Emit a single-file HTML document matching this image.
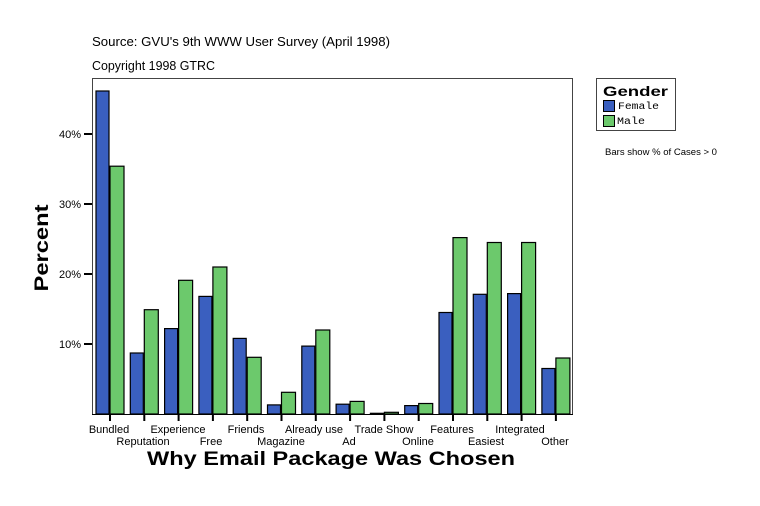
<!DOCTYPE html>
<html><head><meta charset="utf-8"><style>
body{margin:0;background:#fff;}
svg{display:block;font-family:"Liberation Sans",Arial,sans-serif;}
</style></head><body>
<svg width="760" height="506" viewBox="0 0 760 506">
<rect width="760" height="506" fill="#fff"/>
<text x="92" y="46" font-size="13" textLength="298" lengthAdjust="spacingAndGlyphs">Source: GVU's 9th WWW User Survey (April 1998)</text>
<text x="92" y="70" font-size="13" textLength="123" lengthAdjust="spacingAndGlyphs">Copyright 1998 GTRC</text>
<rect x="92.5" y="78.5" width="480" height="336" fill="#fff" stroke="#444" stroke-width="1"/>
<g stroke="#000" stroke-width="2">
<line x1="84" y1="134" x2="92" y2="134"/><line x1="84" y1="204" x2="92" y2="204"/>
<line x1="84" y1="274" x2="92" y2="274"/><line x1="84" y1="344" x2="92" y2="344"/>
</g>
<g font-size="11" text-anchor="end">
<text x="81" y="138">40%</text><text x="81" y="208">30%</text><text x="81" y="278">20%</text><text x="81" y="348">10%</text>
</g>
<text transform="translate(48,248) rotate(-90)" font-size="19" font-weight="bold" text-anchor="middle" textLength="87" lengthAdjust="spacingAndGlyphs">Percent</text>
<g stroke="#000" stroke-width="1.2">
<g fill="#3a5fbf">
<rect x="96" y="91" width="13" height="323"/>
<rect x="130.3" y="353" width="13" height="61"/>
<rect x="164.6" y="328.6" width="13" height="85.4"/>
<rect x="198.9" y="296.4" width="13" height="117.6"/>
<rect x="233.2" y="338.4" width="13" height="75.6"/>
<rect x="267.5" y="404.9" width="13" height="9.1"/>
<rect x="301.8" y="346.1" width="13" height="67.9"/>
<rect x="336.1" y="404.2" width="13" height="9.8"/>
<rect x="370.4" y="413.3" width="13" height="0.7"/>
<rect x="404.7" y="405.6" width="13" height="8.4"/>
<rect x="439" y="312.5" width="13" height="101.5"/>
<rect x="473.3" y="294.3" width="13" height="119.7"/>
<rect x="507.6" y="293.6" width="13" height="120.4"/>
<rect x="541.9" y="368.5" width="13" height="45.5"/>
</g>
<g fill="#6cc96c">
<rect x="110" y="166.2" width="14" height="247.8"/>
<rect x="144.3" y="309.7" width="14" height="104.3"/>
<rect x="178.6" y="280.3" width="14" height="133.7"/>
<rect x="212.9" y="267" width="14" height="147"/>
<rect x="247.2" y="357.3" width="14" height="56.7"/>
<rect x="281.5" y="392.3" width="14" height="21.7"/>
<rect x="315.8" y="330" width="14" height="84"/>
<rect x="350.1" y="401.4" width="14" height="12.6"/>
<rect x="384.4" y="412.3" width="14" height="1.7"/>
<rect x="418.7" y="403.5" width="14" height="10.5"/>
<rect x="453" y="237.6" width="14" height="176.4"/>
<rect x="487.3" y="242.5" width="14" height="171.5"/>
<rect x="521.6" y="242.5" width="14" height="171.5"/>
<rect x="555.9" y="358" width="14" height="56"/>
</g>
</g>
<line x1="92" y1="414.5" x2="573" y2="414.5" stroke="#000" stroke-width="1"/>
<g stroke="#000" stroke-width="2">
<line x1="110" y1="414" x2="110" y2="421"/><line x1="144.3" y1="414" x2="144.3" y2="421"/>
<line x1="178.6" y1="414" x2="178.6" y2="421"/><line x1="212.9" y1="414" x2="212.9" y2="421"/>
<line x1="247.2" y1="414" x2="247.2" y2="421"/><line x1="281.5" y1="414" x2="281.5" y2="421"/>
<line x1="315.8" y1="414" x2="315.8" y2="421"/><line x1="350.1" y1="414" x2="350.1" y2="421"/>
<line x1="384.4" y1="414" x2="384.4" y2="421"/><line x1="418.7" y1="414" x2="418.7" y2="421"/>
<line x1="453" y1="414" x2="453" y2="421"/><line x1="487.3" y1="414" x2="487.3" y2="421"/>
<line x1="521.6" y1="414" x2="521.6" y2="421"/><line x1="555.9" y1="414" x2="555.9" y2="421"/>
</g>
<g font-size="11" text-anchor="middle">
<text x="109" y="433">Bundled</text><text x="143" y="445">Reputation</text>
<text x="178" y="433">Experience</text><text x="211" y="445">Free</text>
<text x="246" y="433">Friends</text><text x="281" y="445">Magazine</text>
<text x="314" y="433">Already use</text><text x="349" y="445">Ad</text>
<text x="384" y="433">Trade Show</text><text x="418" y="445">Online</text>
<text x="452" y="433">Features</text><text x="486" y="445">Easiest</text>
<text x="520" y="433">Integrated</text><text x="555" y="445">Other</text>
</g>
<text x="147" y="465" font-size="19" font-weight="bold" textLength="368" lengthAdjust="spacingAndGlyphs">Why Email Package Was Chosen</text>
<rect x="596.5" y="78.5" width="79" height="52" fill="#fff" stroke="#444" stroke-width="1"/>
<text x="603" y="96" font-size="14" font-weight="bold" textLength="65" lengthAdjust="spacingAndGlyphs">Gender</text>
<rect x="603.5" y="100.5" width="11" height="11" fill="#3a5fbf" stroke="#000"/>
<rect x="603.5" y="115.5" width="11" height="11" fill="#6cc96c" stroke="#000"/>
<text x="618" y="109" font-size="10" font-family="Liberation Mono,monospace" textLength="41" lengthAdjust="spacingAndGlyphs">Female</text>
<text x="617" y="124" font-size="10" font-family="Liberation Mono,monospace" textLength="28" lengthAdjust="spacingAndGlyphs">Male</text>
<text x="605" y="155" font-size="9" textLength="112" lengthAdjust="spacingAndGlyphs">Bars show % of Cases &gt; 0</text>
</svg>
</body></html>
